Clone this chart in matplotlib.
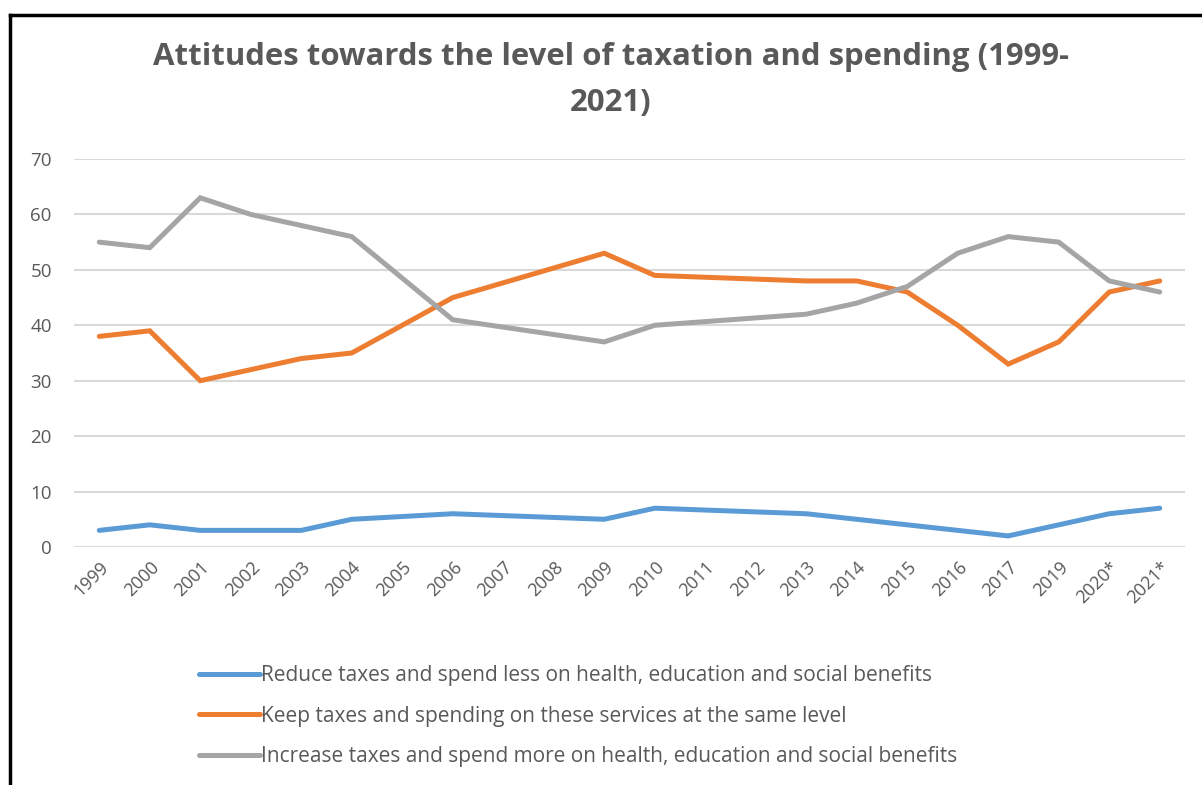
import numpy as np
import matplotlib
matplotlib.use("Agg")
import matplotlib.pyplot as plt
from matplotlib.lines import Line2D

plt.rcParams['font.family'] = ['Open Sans', 'DejaVu Sans']

categories = ["1999", "2000", "2001", "2002", "2003", "2004", "2005", "2006", "2007",
              "2008", "2009", "2010", "2011", "2012", "2013", "2014", "2015", "2016",
              "2017", "2019", "2020*", "2021*"]

reduce_vals = [3, 4, 3, 3, 3, 5, None, 6, None, None, 5, 7, None, None, 6, 5, 4, 3, 2, 4, 6, 7]
keep_vals = [38, 39, 30, 32, 34, 35, None, 45, None, None, 53, 49, None, None, 48, 48, 46, 40, 33, 37, 46, 48]
increase_vals = [55, 54, 63, 60, 58, 56, None, 41, None, None, 37, 40, None, None, 42, 44, 47, 53, 56, 55, 48, 46]

series_labels = [
    "Reduce taxes and spend less on health, education and social benefits",
    "Keep taxes and spending on these services at the same level",
    "Increase taxes and spend more on health, education and social benefits",
]
colors = ["#5b9bd5", "#ed7d31", "#a5a5a5"]
title = "Attitudes towards the level of taxation and spending (1999-\n2021)"

W, H = 1202, 785
fig = plt.figure(figsize=(W / 100, H / 100), dpi=100)
ax = fig.add_axes([74 / W, (H - 547) / H, 1111 / W, 388 / H])

x = np.arange(len(categories))
handles = []
for vals, col, lab in zip([reduce_vals, keep_vals, increase_vals], colors, series_labels):
    y = np.array([np.nan if v is None else v for v in vals], dtype=float)
    m = ~np.isnan(y)
    ln, = ax.plot(x[m], y[m], color=col, lw=3.6, solid_capstyle='round',
                  solid_joinstyle='miter', label=lab, zorder=3)
    handles.append(ln)

ax.set_xlim(-0.5, len(categories) - 0.5)
ax.set_ylim(0, 70)
ax.set_yticks(np.arange(0, 71, 10))
ax.yaxis.grid(True, color="#d9d9d9", lw=1.5)
ax.set_axisbelow(True)
for s in ax.spines.values():
    s.set_visible(False)
ax.tick_params(axis='both', length=0, colors="#595959", labelsize=13.5)
ax.tick_params(axis='y', pad=16)
ax.set_xticks(x)
ax.set_xticklabels(categories, rotation=45, ha='right', rotation_mode='anchor')
ax.tick_params(axis='x', pad=8, labelsize=13)

fig.text(611 / W, 1 - 80 / H, title, ha='center', va='center', fontsize=22.4,
         fontweight='bold', color="#595959", linespacing=1.68)

leg = fig.legend(handles=handles, loc='upper left', bbox_to_anchor=(191 / W, 1 - 657 / H),
                 frameon=False, fontsize=15, handlelength=2.9, handletextpad=0.05,
                 labelspacing=0.93, borderaxespad=0)
for t in leg.get_texts():
    t.set_color("#595959")

# outer border (top and left only visible)
fig.add_artist(Line2D([9.5 / W, 9.5 / W], [0, 1 - 14.5 / H], transform=fig.transFigure,
                      color='black', lw=2.5))
fig.add_artist(Line2D([9.5 / W, 1], [1 - 14.5 / H, 1 - 14.5 / H], transform=fig.transFigure,
                      color='black', lw=2.5))

fig.savefig("out.png", dpi=100, facecolor='white')
